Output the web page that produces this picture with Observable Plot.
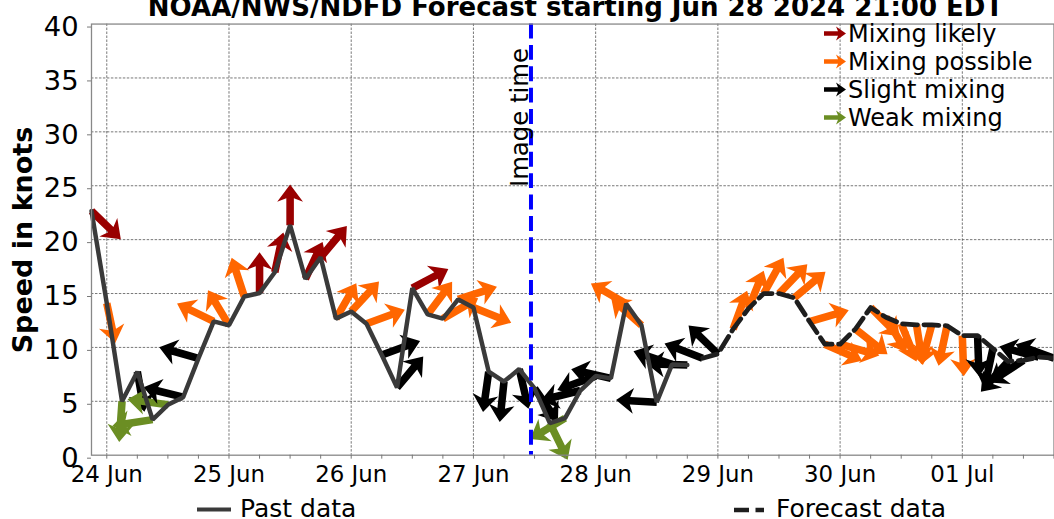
<!DOCTYPE html>
<html><head><meta charset="utf-8">
<script src="https://cdn.jsdelivr.net/npm/d3@7"></script>
<script src="https://cdn.jsdelivr.net/npm/@observablehq/plot@0.6"></script>
<style>
html,body{margin:0;padding:0;background:#fff;overflow:hidden;width:1054px;height:519px}
#wrap{position:relative;width:1054px;height:519px;overflow:hidden;font-family:"DejaVu Sans",sans-serif}
#chart{position:absolute;left:0;top:0}
#overlay{position:absolute;left:0;top:0}
</style></head><body>
<div id="wrap"><div id="chart"></div><svg id="overlay" width="1054" height="519"></svg></div>
<script>
// ---- data (hours since 24 Jun 00:00) ----
const pastHours = [-3,0,3,6,9,12,15,18,21,24,27,30,33,36,39,42,45,48,51,54,57,60,63,66,69,72,75,78,81,84,87,90,93,96,99,102,105,108,111,114];
const pastSpeed = [22.66,14.1,5.0,7.75,3.3,4.67,5.38,8.98,12.42,12.05,14.72,15.04,16.97,21.34,16.36,18.36,12.67,13.34,12.2,9.3,6.27,15.5,13.06,12.67,14.45,13.7,7.75,6.83,7.99,6.2,2.98,3.44,6.0,7.34,7.13,14.05,12.05,4.92,8.42,8.36];
const pastMix   = ["L","P","W","S","W","W","S","S","P","P","P","L","L","L","L","L","P","P","P","S","S","L","P","P","P","P","S","S","S","S","W","W","S","S","S","P","P","S","S","S"];
const pastDir   = [134,168,184,170,261,278,284,286,296,329,342,0,12,0,25,40,30,43,70,70,40,62,37,60,72,112,188,186,167,145,154,239,256,250,283,300,312,273,289,272];

const fcHours = [117,120,123,126,129,132,135,138,141,144,147,150,153,156,159,162,165,168,171,174,177,180,183,186];
const fcSpeed = [9.0,9.4,11.7,13.6,15.0,15.0,14.6,12.4,10.3,10.3,11.7,13.7,12.8,12.2,12.1,12.1,12.0,11.1,11.1,9.9,8.7,8.8,9.1,9.0];
const fcMix   = ["S","S","P","P","P","P","P","P","P","P","P","P","P","P","P","P","P","P","S","S","S","S","S","S"];
const fcDir   = [291,314,20,22,29,44,50,74,114,106,128,135,150,158,171,195,192,178,178,192,222,237,285,290];

const mixCodes = ["L","P","S","W"];
const mixNames = ["Mixing likely","Mixing possible","Slight mixing","Weak mixing"];
const mixColors = ["#990000","#ff6600","#000000","#6b8e23"];

const dayTicks = [0,24,48,72,96,120,144,168];
const dayLabels = ["24 Jun","25 Jun","26 Jun","27 Jun","28 Jun","29 Jun","30 Jun","01 Jul"];
const minorTicks = [6,12,18,30,36,42,54,60,66,78,84,90,102,108,114,126,132,138,150,156,162,174,180,186];
const speedTicks = [0,5,10,15,20,25,30,35,40];
const imageTimeHour = 83.3;

const titleText = "NOAA/NWS/NDFD Forecast starting Jun 28 2024 21:00 EDT";
const yLabelText = "Speed in knots";
const pastLabel = "Past data", fcLabel = "Forecast data", imageLabel = "Image time";

// ---- tables ----
const nameOf = c => mixNames[mixCodes.indexOf(c)];
const past = pastHours.map((h,i)=>({h, v: pastSpeed[i], mix: nameOf(pastMix[i]), dir: pastDir[i]}));
const fc = fcHours.map((h,i)=>({h, v: fcSpeed[i], mix: nameOf(fcMix[i]), dir: fcDir[i]}));
const arrows = past.concat(fc);

const arrowShape = {
  draw(context, l) {
    const w = 3.8, hw = 13, hl = 17.5, hal = 14;
    context.moveTo(-w, 0);
    context.lineTo(-w, -(l - hal));
    context.lineTo(-hw, -(l - hl));
    context.lineTo(0, -l);
    context.lineTo(hw, -(l - hl));
    context.lineTo(w, -(l - hal));
    context.lineTo(w, 0);
    context.closePath();
  }
};

const gridStyle = {stroke:"#555", strokeOpacity:1, strokeWidth:0.8, strokeDasharray:"2.5,1.5"};
const chart = Plot.plot({
  width: 1060, height: 519,
  marginLeft: 91.5, marginRight: 0.5, marginTop: 23.7, marginBottom: 61.7,
  style: {fontFamily: "DejaVu Sans", background: "white", color: "black"},
  x: {domain: [-3, 186], axis: null, label: null},
  y: {domain: [0, 40], axis: null, label: null},
  color: {domain: mixNames, range: mixColors},
  marks: [
    Plot.gridY(speedTicks.slice(1, -1), gridStyle),
    Plot.gridX(dayTicks, gridStyle),
    Plot.vector(arrows, {x:"h", y:"v", rotate:"dir", length:41, anchor:"start", shape: arrowShape, fill:"mix", stroke:"none", strokeWidth:0}),
    Plot.line(past, {x:"h", y:"v", stroke:"#3a3a3a", strokeWidth:4.5, strokeLinejoin:"miter"}),
    Plot.line(fc, {x:"h", y:"v", stroke:"#1e1e1e", strokeWidth:4.8, strokeDasharray:"15,6.5"}),
    Plot.ruleX([imageTimeHour], {stroke:"#0000ff", strokeWidth:4, strokeDasharray:"15,6.5"}),
    Plot.text([imageLabel], {x: () => imageTimeHour, frameAnchor:"top", dy: 94, dx: -20, rotate:-90, fontSize:24.5, text: d => d, fill:"black"}),
    Plot.frame({stroke:"#888", strokeWidth:1.3}),
    Plot.axisY(speedTicks, {label: null, tickSize:4, tickPadding:9, fontSize:27.5, dy:3, stroke:"#777", fill:"black", tickFormat: d => String(d)}),
    Plot.axisX(dayTicks, {label: null, tickSize:4, tickPadding:7, fontSize:23, stroke:"#777", fill:"black", tickFormat: d => dayLabels[dayTicks.indexOf(d)]}),
    Plot.axisX(minorTicks, {label: null, tickSize:4, stroke:"#777", tickFormat: () => ""})
  ]
});
document.getElementById("chart").appendChild(chart);

// ---- overlay: title, y label, legends ----
const ov = d3.select("#overlay");
ov.append("text").attr("x", 575.5).attr("y", 16).attr("text-anchor","middle")
  .attr("font-family","DejaVu Sans").attr("font-weight","bold").attr("font-size",26).text(titleText);
ov.append("text").attr("transform","translate(32,240) rotate(-90)").attr("text-anchor","middle")
  .attr("font-family","DejaVu Sans").attr("font-weight","bold").attr("font-size",27).text(yLabelText);

const legArrow = (x0, x1, y) => {
  const w = 2.2, hw = 7, hl = 10, hal = 8;
  const p = d3.path();
  p.moveTo(x0, y - w); p.lineTo(x1 - hal, y - w); p.lineTo(x1 - hl, y - hw); p.lineTo(x1, y);
  p.lineTo(x1 - hl, y + hw); p.lineTo(x1 - hal, y + w); p.lineTo(x0, y + w); p.closePath();
  return p.toString();
};
mixNames.forEach((name, i) => {
  const cy = 33.5 + i * 28;
  ov.append("path").attr("d", legArrow(824, 846, cy)).attr("fill", mixColors[i]);
  ov.append("text").attr("x", 848).attr("y", cy + 8.5).attr("font-family","DejaVu Sans").attr("font-size",24).text(name);
});
ov.append("line").attr("x1",197).attr("x2",231).attr("y1",509.5).attr("y2",509.5).attr("stroke","#3a3a3a").attr("stroke-width",4);
ov.append("text").attr("x",240).attr("y",517).attr("font-family","DejaVu Sans").attr("font-size",25).text(pastLabel);
ov.append("line").attr("x1",734).attr("x2",764).attr("y1",510).attr("y2",510).attr("stroke","#1e1e1e").attr("stroke-width",4.5).attr("stroke-dasharray","15,6.5");
ov.append("text").attr("x",776).attr("y",517).attr("font-family","DejaVu Sans").attr("font-size",25).text(fcLabel);
</script>
</body></html>
